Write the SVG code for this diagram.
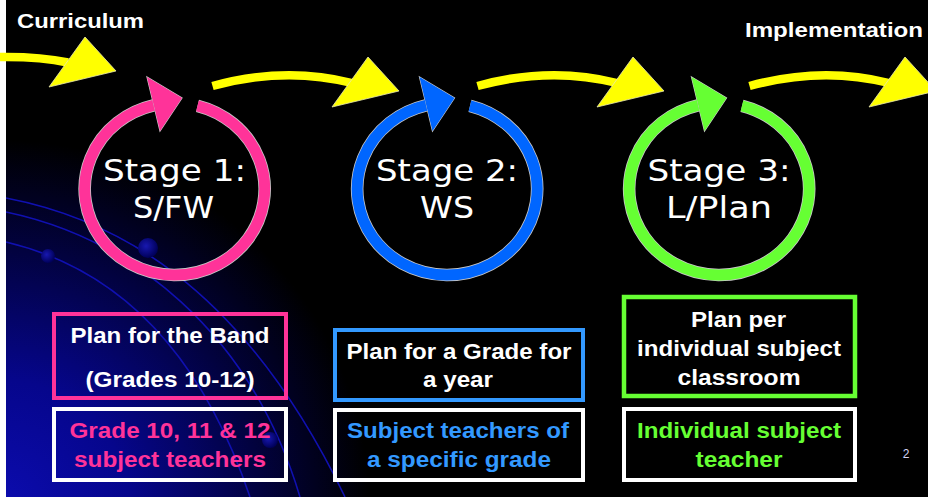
<svg xmlns="http://www.w3.org/2000/svg" width="928" height="497" viewBox="0 0 928 497">
<style>
.ttl{font-family:"Liberation Sans",Arial,sans-serif;font-weight:bold;font-size:21px;fill:#fff}
.stg{font-family:"DejaVu Sans",Verdana,sans-serif;font-weight:normal;font-size:31px;fill:#fff;text-anchor:middle}
.bx{font-family:"Liberation Sans",Arial,sans-serif;font-weight:bold;font-size:22px;text-anchor:middle}
.w{fill:#fff}.pk{fill:#FF3399}.bl{fill:#3399FF}.gr{fill:#66FF33}
.orb{fill:none;stroke:#1010b0;stroke-width:1.6}
.halo{fill:none;stroke:#c8c8c8;stroke-width:12.6}
.band{fill:none;stroke-width:8.5}
</style>
<defs>
<radialGradient id="bg" gradientUnits="userSpaceOnUse" cx="0" cy="510" r="370">
<stop offset="0" stop-color="#0c0cb0"/>
<stop offset="0.35" stop-color="#06068c"/>
<stop offset="0.7" stop-color="#020240"/>
<stop offset="1" stop-color="#000"/>
</radialGradient>
<radialGradient id="dot" cx="0.4" cy="0.4" r="0.6">
<stop offset="0" stop-color="#1818b0"/>
<stop offset="1" stop-color="#00005a"/>
</radialGradient>
<path id="ring" d="M 23 -83.2 A 90 86 0 1 1 -21 -83.6"/>
<polygon id="rhead" points="-27.5,-112 7.5,-91 -14.5,-58"/>
<path id="yband" d="M 212.5 86 Q 285 66 352 83"/>
<polygon id="yhead" points="368,57 399,91 332,107"/>
</defs>

<g id="background">
<rect x="0" y="0" width="928" height="497" fill="#000"/>
<rect x="0" y="0" width="928" height="497" fill="url(#bg)"/>
<path class="orb" d="M 6 198 C 110 218, 240 280, 345 497"/>
<path class="orb" d="M 6 212 C 130 238, 250 330, 300 497"/>
<path class="orb" d="M 6 242 C 90 262, 190 320, 250 497"/>
<circle cx="148" cy="248" r="10" fill="url(#dot)"/>
<circle cx="48" cy="256" r="7" fill="url(#dot)"/>
<circle cx="270" cy="440" r="8" fill="url(#dot)"/>
<rect x="0" y="0" width="6" height="497" fill="#fff"/>
</g>

<g id="connectors">
<g id="arrow-in">
<path d="M 0 57 Q 40 56.5 68 62.5" class="band" stroke="#FFFF00"/>
<polygon points="85,37 116,71 49,87" fill="#FFFF00" stroke="#e8e8b0" stroke-width="0.8"/>
</g>
<g id="arrow-1-2">
<use href="#yband" class="band" stroke="#FFFF00"/>
<use href="#yhead" fill="#FFFF00" stroke="#e8e8b0" stroke-width="0.8"/>
</g>
<g id="arrow-2-3" transform="translate(265,0)">
<use href="#yband" class="band" stroke="#FFFF00"/>
<use href="#yhead" fill="#FFFF00" stroke="#e8e8b0" stroke-width="0.8"/>
</g>
<g id="arrow-out" transform="translate(537,0)">
<use href="#yband" class="band" stroke="#FFFF00"/>
<use href="#yhead" fill="#FFFF00" stroke="#e8e8b0" stroke-width="0.8"/>
</g>
</g>

<text id="curriculum" class="ttl" x="17" y="28" textLength="127" lengthAdjust="spacingAndGlyphs">Curriculum</text>
<text id="implementation" class="ttl" x="745" y="37" textLength="178" lengthAdjust="spacingAndGlyphs">Implementation</text>

<g id="stage1" transform="translate(174.5,189)">
<use href="#ring" class="halo"/>
<use href="#rhead" fill="#FF3399" stroke="#c8c8c8" stroke-width="1.2"/>
<use href="#ring" fill="none" stroke="#FF3399" stroke-width="11"/>
<use href="#rhead" fill="#FF3399"/>
<text class="stg" x="0" y="-8" textLength="143" lengthAdjust="spacingAndGlyphs">Stage 1:</text>
<text class="stg" x="-1" y="29" textLength="81" lengthAdjust="spacingAndGlyphs">S/FW</text>
</g>
<g id="stage2" transform="translate(447,189)">
<use href="#ring" class="halo"/>
<use href="#rhead" fill="#0066FF" stroke="#c8c8c8" stroke-width="1.2"/>
<use href="#ring" fill="none" stroke="#0066FF" stroke-width="11"/>
<use href="#rhead" fill="#0066FF"/>
<text class="stg" x="0" y="-8" textLength="142" lengthAdjust="spacingAndGlyphs">Stage 2:</text>
<text class="stg" x="0" y="29" textLength="54" lengthAdjust="spacingAndGlyphs">WS</text>
</g>
<g id="stage3" transform="translate(719,189)">
<use href="#ring" class="halo"/>
<use href="#rhead" fill="#66FF33" stroke="#c8c8c8" stroke-width="1.2"/>
<use href="#ring" fill="none" stroke="#66FF33" stroke-width="11"/>
<use href="#rhead" fill="#66FF33"/>
<text class="stg" x="0" y="-8" textLength="143" lengthAdjust="spacingAndGlyphs">Stage 3:</text>
<text class="stg" x="0" y="29" textLength="106" lengthAdjust="spacingAndGlyphs">L/Plan</text>
</g>

<g id="plan1">
<rect x="54" y="314" width="232" height="84" fill="none" stroke="#FF3399" stroke-width="4"/>
<text class="bx w" x="170" y="343" textLength="199" lengthAdjust="spacingAndGlyphs">Plan for the Band</text>
<text class="bx w" x="170" y="387" textLength="169" lengthAdjust="spacingAndGlyphs">(Grades 10-12)</text>
</g>
<g id="who1">
<rect x="54" y="409" width="232" height="71" fill="none" stroke="#fff" stroke-width="4"/>
<text class="bx pk" x="170" y="438" textLength="201" lengthAdjust="spacingAndGlyphs">Grade 10, 11 &amp; 12</text>
<text class="bx pk" x="170" y="467" textLength="192" lengthAdjust="spacingAndGlyphs">subject teachers</text>
</g>

<g id="plan2">
<rect x="335" y="330" width="248" height="70" fill="none" stroke="#3399FF" stroke-width="4"/>
<text class="bx w" x="459" y="359" textLength="225" lengthAdjust="spacingAndGlyphs">Plan for a Grade for</text>
<text class="bx w" x="458" y="387" textLength="70" lengthAdjust="spacingAndGlyphs">a year</text>
</g>
<g id="who2">
<rect x="335" y="410" width="248" height="70" fill="none" stroke="#fff" stroke-width="4"/>
<text class="bx bl" x="458" y="438" textLength="222" lengthAdjust="spacingAndGlyphs">Subject teachers of</text>
<text class="bx bl" x="459" y="467" textLength="184" lengthAdjust="spacingAndGlyphs">a specific grade</text>
</g>

<g id="plan3">
<rect x="624" y="297" width="231" height="99" fill="none" stroke="#66FF33" stroke-width="4.5"/>
<text class="bx w" x="738.5" y="327" textLength="95" lengthAdjust="spacingAndGlyphs">Plan per</text>
<text class="bx w" x="739" y="356" textLength="204" lengthAdjust="spacingAndGlyphs">individual subject</text>
<text class="bx w" x="739" y="385" textLength="123" lengthAdjust="spacingAndGlyphs">classroom</text>
</g>
<g id="who3">
<rect x="624" y="409" width="231" height="71" fill="none" stroke="#fff" stroke-width="4"/>
<text class="bx gr" x="739" y="438" textLength="204" lengthAdjust="spacingAndGlyphs">Individual subject</text>
<text class="bx gr" x="739" y="467" textLength="87" lengthAdjust="spacingAndGlyphs">teacher</text>
</g>

<text id="page" x="906" y="458" font-family="'Liberation Sans',Arial,sans-serif" font-size="12" fill="#d4d4f4" text-anchor="middle">2</text>
</svg>
